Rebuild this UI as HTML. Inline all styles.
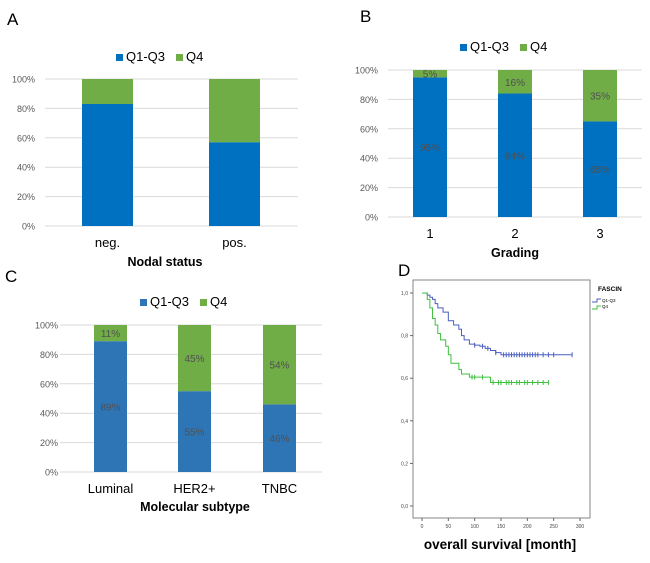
<!DOCTYPE html>
<html><head><meta charset="utf-8"><style>
body{margin:0;background:#fff;font-family:"Liberation Sans",sans-serif}
svg text{font-family:"Liberation Sans",sans-serif}
</style></head><body>
<svg id="s" width="650" height="558" xmlns="http://www.w3.org/2000/svg">
<text x="7" y="25" font-size="17">A</text>
<text x="360" y="22" font-size="17">B</text>
<text x="5" y="282" font-size="17">C</text>
<text x="398" y="276" font-size="17">D</text>
</svg>
<script>
const catsA=["neg.","pos."];
const q13A=[83,57];
const catsB=["1","2","3"];
const q13B=[95,84,65];
const lblB13=["95%","84%","65%"];
const lblB4=["5%","16%","35%"];
const catsC=["Luminal","HER2+","TNBC"];
const q13C=[89,55,46];
const lblC13=["89%","55%","46%"];
const lblC4=["11%","45%","54%"];
const yTicks=[0,20,40,60,80,100];
// KM data
const blueT=[0,10,15,20,25,30,40,50,60,70,75,80,90,100,110,120,130,140,150,285];
const blueS=[1,0.99,0.98,0.97,0.95,0.93,0.91,0.87,0.85,0.83,0.80,0.78,0.76,0.755,0.75,0.74,0.73,0.72,0.71,0.71];
const blueCens=[100,115,125,140,155,160,165,170,175,180,185,190,195,200,205,210,215,220,230,240,250,285];
const greenT=[0,10,15,20,25,30,35,45,50,55,70,75,90,130,240];
const greenS=[1,0.97,0.93,0.88,0.85,0.81,0.78,0.75,0.71,0.67,0.64,0.62,0.605,0.58,0.58];
const greenCens=[95,100,115,135,145,150,160,165,170,180,185,195,200,210,220,230,240];
const xTicksKM=[0,50,100,150,200,250,300];
const yTicksKM=["0,0","0,2","0,4","0,6","0,8","1,0"];

const S=document.getElementById('s');const NS="http://www.w3.org/2000/svg";
function mk(t,a,txt){const e=document.createElementNS(NS,t);for(const k in a)e.setAttribute(k,a[k]);if(txt!==undefined)e.textContent=txt;S.appendChild(e);return e;}

function bar(p){
 const y=v=>p.y0-(p.y0-p.y1)*v/100;
 yTicks.forEach(t=>{
  const g=mk('line',{x1:p.gx0,x2:p.gx1,y1:y(t),y2:y(t),stroke:'#d9d9d9','stroke-width':1});
  
  
  const tl=mk('text',{x:p.tx,y:y(t)+3.5,'font-size':9,fill:'#595959','text-anchor':'end'},t+'%');
  
  
 });
 p.cats.forEach((c,i)=>{
  const x=p.bx[i],v=p.vals[i];
  const r1=mk('rect',{x:x,y:y(v),width:p.bw,height:y(0)-y(v),fill:p.blue});
  
  
  const r2=mk('rect',{x:x,y:y(100),width:p.bw,height:y(v)-y(100),fill:'#70ad47'});
  
  
  if(p.l13){
   const a=mk('text',{x:x+p.bw/2,y:(y(v)+y(0))/2+4,'font-size':10,fill:'#505050','text-anchor':'middle'},p.l13[i]);
   
   
   const b=mk('text',{x:x+p.bw/2,y:(y(v)+y(100))/2+4,'font-size':10,fill:'#505050','text-anchor':'middle'},p.l4[i]);
   
   
  }
  const cl=mk('text',{x:x+p.bw/2,y:p.cy,'font-size':13,fill:'#000','text-anchor':'middle'},c);
  
  
 });
 const at=mk('text',{x:p.titx,y:p.tity,'font-size':12.5,'font-weight':'bold','text-anchor':'middle'},p.title);
 
 
 const lx=p.lx,ly=p.ly;
 const s1=mk('rect',{x:lx,y:ly-7,width:7,height:7,fill:p.blue});
 
 
 const t1=mk('text',{x:lx+10,y:ly,'font-size':13},'Q1-Q3');
 
 
 const s2=mk('rect',{x:lx+60,y:ly-7,width:7,height:7,fill:'#70ad47'});
 
 
 const t2=mk('text',{x:lx+70,y:ly,'font-size':13},'Q4');
 
 
}
bar({cats:catsA,vals:q13A,y0:226,y1:79,gx0:45,gx1:298,tx:35,bx:[82,209],bw:51,cy:247,titx:165,tity:266,title:'Nodal status',lx:116,ly:61,blue:'#0070c0'});
bar({cats:catsB,vals:q13B,l13:lblB13,l4:lblB4,y0:217,y1:70,gx0:388,gx1:642,tx:378,bx:[413,498,583],bw:34,cy:238,titx:515,tity:257,title:'Grading',lx:460,ly:51,blue:'#0070c0'});
bar({cats:catsC,vals:q13C,l13:lblC13,l4:lblC4,y0:472,y1:325,gx0:60,gx1:322,tx:58,bx:[94,178,263],bw:33,cy:493,titx:195,tity:511,title:'Molecular subtype',lx:140,ly:306,blue:'#2e75b6'});

// KM panel
const kx=t=>422+t*(158/300), ky=s=>506-s*213;
const fr=mk('rect',{x:413,y:280,width:177,height:238,fill:'none',stroke:'#666','stroke-width':0.8});


yTicksKM.forEach((l,i)=>{
 const yy=ky(i*0.2);
 const tk=mk('line',{x1:410,x2:413,y1:yy,y2:yy,stroke:'#666'});
 
 
 const tl=mk('text',{x:408,y:yy+2,'font-size':5,fill:'#444','text-anchor':'end'},l);
 
 
});
xTicksKM.forEach(t=>{
 const tk=mk('line',{x1:kx(t),x2:kx(t),y1:518,y2:521,stroke:'#666'});
 
 
 const tl=mk('text',{x:kx(t),y:528,'font-size':5,fill:'#444','text-anchor':'middle'},t);
 
 
});
function km(T,Sv,C,col,name){
 let d='M'+kx(T[0])+','+ky(Sv[0]);
 for(let i=1;i<T.length;i++){d+=' H'+kx(T[i])+' V'+ky(Sv[i]);}
 const p=mk('path',{d:d,fill:'none',stroke:col,'stroke-width':1});
 
 
 C.forEach(c=>{
  let s=Sv[0];for(let i=0;i<T.length;i++)if(T[i]<=c)s=Sv[i];
  const m=mk('line',{x1:kx(c),x2:kx(c),y1:ky(s)-2.5,y2:ky(s)+2.5,stroke:col,'stroke-width':1});
  
  
 });
}
km(blueT,blueS,blueCens,'#4a5fc1','q1-q3');
km(greenT,greenS,greenCens,'#3fbf3f','q4');
const lt=mk('text',{x:598,y:291,'font-size':6.5,'font-weight':'bold'},'FASCIN');


const l1=mk('path',{d:'M592,302 h5 v-3 h4',fill:'none',stroke:'#4a5fc1'});


const lt1=mk('text',{x:602,y:302,'font-size':4.5},'Q1-Q3');


const l2=mk('path',{d:'M592,309 h5 v-3 h4',fill:'none',stroke:'#3fbf3f'});


const lt2=mk('text',{x:602,y:308,'font-size':4.5},'Q4');


const xt=mk('text',{x:500,y:549,'font-size':13.5,'font-weight':'bold','text-anchor':'middle'},'overall survival [month]');


</script>
</body></html>
